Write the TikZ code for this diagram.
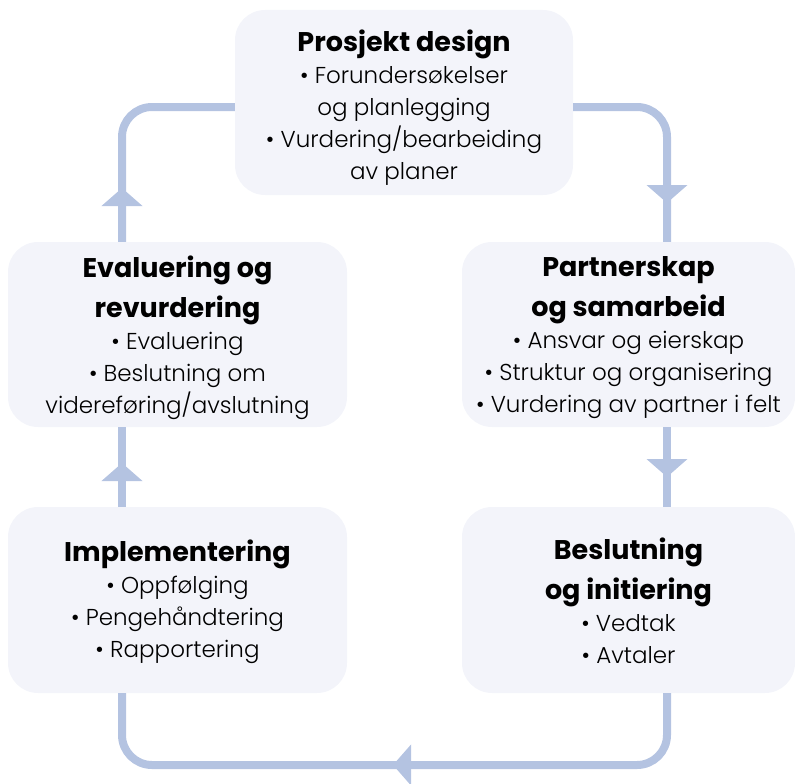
\documentclass[tikz,border=0pt]{standalone}
\usepackage{fontspec}
\setmainfont{Poppins Light}[BoldFont=Poppins Bold]
\usetikzlibrary{arrows.meta,calc}
\definecolor{linec}{HTML}{B4C3E1}
\definecolor{boxc}{HTML}{F3F4FA}
\newcommand{\hd}{\bfseries\fontsize{27}{38}\selectfont}
\tikzset{
  box/.style={fill=boxc, rounded corners=30pt, inner sep=0pt},
  txt/.style={inner sep=0pt, align=center, font=\fontsize{23}{32}\selectfont, text=black},
  conn/.style={draw=linec, line width=8pt},
  tipc/.style={conn, -{Triangle[width=40pt,length=18pt]}},
}
\begin{document}
\begin{tikzpicture}[x=1pt,y=-1pt]
\useasboundingbox (0,0) rectangle (795,784);
\node[box, minimum width=338pt, minimum height=185pt] (pd) at (404,102.5) {};
\node[box, minimum width=339pt, minimum height=185pt] (ev) at (177.5,334.5) {};
\node[box, minimum width=333pt, minimum height=185pt] (ps) at (628.5,334.5) {};
\node[box, minimum width=339pt, minimum height=186pt] (im) at (177.5,600) {};
\node[box, minimum width=333pt, minimum height=186pt] (bs) at (628.5,600) {};
\node[txt, yshift=-5.5pt] (pdt) at (pd)
  {\hd Prosjekt design\\ • Forundersøkelser\\ og planlegging\\ • Vurdering/bearbeiding\\ av planer};
\node[txt, yshift=-3pt] (evt) at (ev)
  {\hd Evaluering og\\[8pt] \hd revurdering\\ • Evaluering\\ • Beslutning om\\ videreføring/avslutning};
\node[txt, yshift=-3pt] (pst) at (ps)
  {\hd Partnerskap\\[8pt] \hd og samarbeid\\ • Ansvar og eierskap\\ • Struktur og organisering\\ • Vurdering av partner i felt};
\node[txt, yshift=-2pt] (imt) at (im)
  {\hd Implementering\\ • Oppfølging\\ • Pengehåndtering\\ • Rapportering};
\node[txt, yshift=-1pt] (bst) at (bs)
  {\hd Beslutning\\[8pt] \hd og initiering\\ • Vedtak\\ • Avtaler};
\coordinate (topline) at (0,107);
\coordinate (botline) at (0,765);
\coordinate (lx) at (122,0);
\coordinate (rx) at (667,0);
\coordinate (tipA) at (122,188);
\coordinate (tipB) at (667,203);
\coordinate (tipC) at (667,477);
\coordinate (tipD) at (393,765);
\coordinate (tipE) at (122,463);
% connectors
\draw[conn, rounded corners=30pt] (pd.west |- topline) -| (lx |- ev.north);
\draw[tipc] (lx |- ev.north) -- (tipA);
\draw[conn, rounded corners=30pt] (pd.east |- topline) -| (rx |- ps.north);
\draw[tipc] (667,150) -- (tipB);
\draw[conn] (rx |- ps.south) -- (rx |- bs.north);
\draw[tipc] (rx |- ps.south) -- (tipC);
\draw[conn, rounded corners=30pt] (rx |- bs.south) |- (lx |- botline) -- (lx |- im.south);
\draw[tipc] (560,765) -- (tipD);
\draw[conn] (lx |- im.north) -- (lx |- ev.south);
\draw[tipc] (lx |- im.north) -- (tipE);
\end{tikzpicture}
\end{document}
